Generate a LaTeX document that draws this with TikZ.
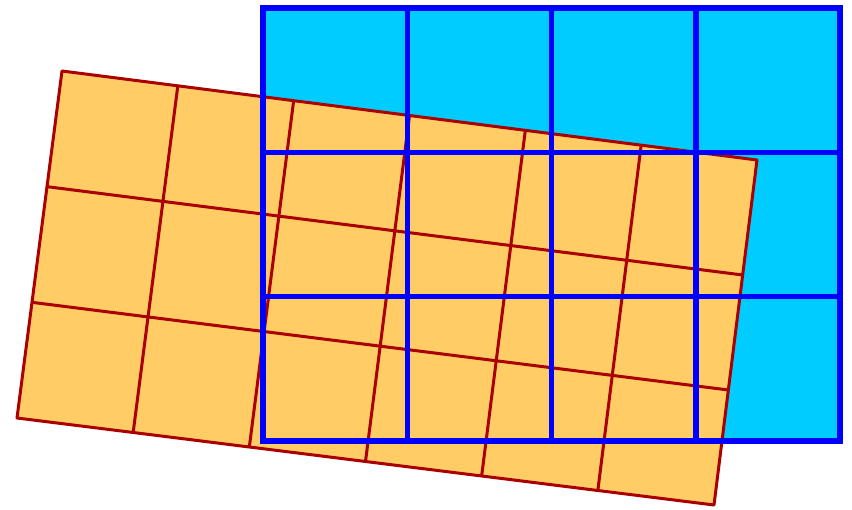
\documentclass[tikz,border=0pt]{standalone}
\usepackage{tikz}
\usetikzlibrary{calc}
\definecolor{skyfill}{RGB}{0,204,255}
\definecolor{sandfill}{RGB}{255,204,102}
\definecolor{gridred}{RGB}{170,0,0}
\definecolor{gridblue}{RGB}{0,0,255}
\begin{document}
\begin{tikzpicture}[x=1pt,y=-1pt,
    bluegrid/.style={gridblue, line width=5.5pt},
    redgrid/.style={gridred, line width=3pt, line join=round}]
            \useasboundingbox (0,0) rectangle (852,510);

            % straight grid, background
            \fill[skyfill] (263,8) rectangle (840,441);

            % tilted grid corners
            \coordinate (tl) at (62,71);
            \coordinate (tr) at (757,160);
            \coordinate (br) at (714,505);
            \coordinate (bl) at (17,418);

            \fill[sandfill] (tl) -- (tr) -- (br) -- (bl) -- cycle;
            \foreach \i in {1,...,5}
                \draw[redgrid] ($(tl)!\i/6!(tr)$) -- ($(bl)!\i/6!(br)$);
            \foreach \j in {1,2}
                \draw[redgrid] ($(tl)!\j/3!(bl)$) -- ($(tr)!\j/3!(br)$);
            \draw[redgrid] (tl) -- (tr) -- (br) -- (bl) -- cycle;

            % straight grid lines on top
            \foreach \i in {1,2,3}
                \draw[bluegrid] (263+144.25*\i,8) -- (263+144.25*\i,441);
            \foreach \j in {1,2}
                \draw[bluegrid] (263,8+144.33*\j) -- (840,8+144.33*\j);
            \draw[bluegrid] (263,8) rectangle (840,441);
\end{tikzpicture}
\end{document}
